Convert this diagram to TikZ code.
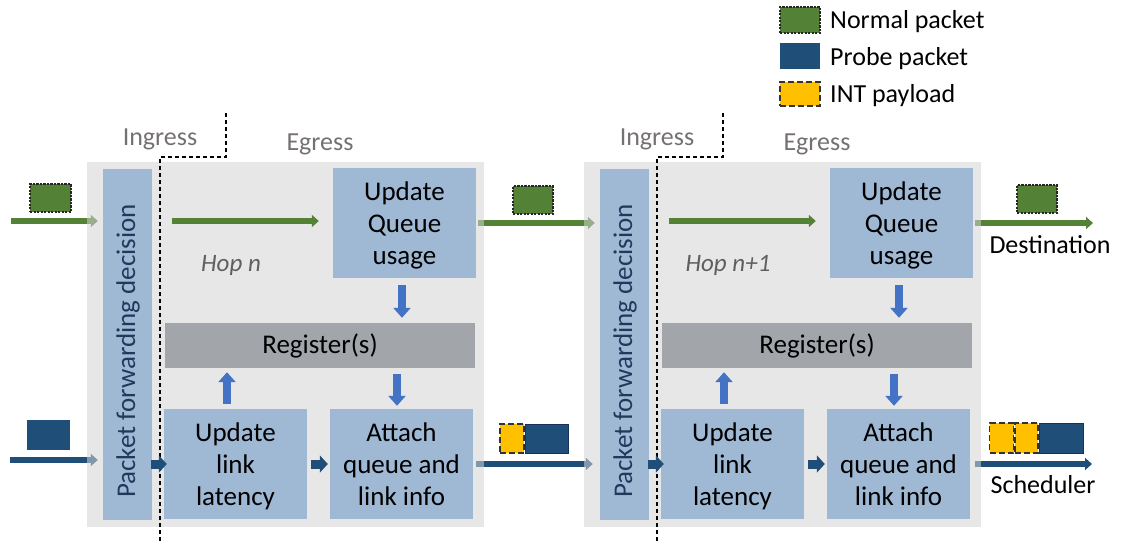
\documentclass[tikz,border=0pt]{standalone}
\usepackage{fontspec}
\setmainfont{Carlito}
\usetikzlibrary{arrows.meta,calc}

\definecolor{stagegrey}{HTML}{D3D3D3}
\definecolor{boxblue}{HTML}{9FB9D5}
\definecolor{reggrey}{HTML}{A2A5AA}
\definecolor{pktgreen}{HTML}{538135}
\definecolor{probeblue}{HTML}{1F4E79}
\definecolor{probeedge}{HTML}{1A2F5A}
\definecolor{intyellow}{HTML}{FFC000}
\definecolor{flowblue}{HTML}{4472C4}
\definecolor{labelgrey}{HTML}{767171}
\definecolor{hopgrey}{HTML}{5F5F5F}
\definecolor{decink}{HTML}{22395C}

\pgfdeclarelayer{back}
\pgfsetlayers{back,main}

\tikzset{
  stage/.style={fill=stagegrey, fill opacity=0.55, draw=none, inner sep=0pt,
    minimum width=397pt, minimum height=365pt},
  unit/.style={fill=boxblue, draw=none, inner sep=0pt, align=center, text depth=0pt,
    minimum width=143pt, minimum height=110pt, font=\fontsize{27}{32}\selectfont},
  decbox/.style={fill=boxblue, draw=none, inner sep=0pt,
    minimum width=49pt, minimum height=351pt},
  dectxt/.style={rotate=90, text=decink, inner sep=0pt, font=\fontsize{27}{32}\selectfont},
  regbox/.style={fill=reggrey, draw=none, inner sep=0pt,
    minimum width=310pt, minimum height=45pt, font=\fontsize{27}{32}\selectfont},
  sidetxt/.style={anchor=base, text=labelgrey, inner sep=0pt, font=\fontsize{26}{30}\selectfont},
  hoptxt/.style={anchor=base, text=hopgrey, inner sep=0pt, font=\fontsize{25}{30}\selectfont\itshape},
  divider/.style={draw=black, line width=1.3pt, dash pattern=on 4pt off 3pt},
  greenflow/.style={draw=pktgreen, line width=5.5pt, -{Triangle[width=12pt,length=7pt]}},
  probeflow/.style={draw=probeblue, line width=5.5pt, -{Triangle[width=12pt,length=7pt]}},
  stepflow/.style={draw=probeblue, line width=9pt, -{Triangle[width=17pt,length=8pt]}},
  regflow/.style={draw=flowblue, line width=8pt, -{Triangle[width=17pt,length=10pt]}},
  normalpkt/.style={fill=pktgreen, draw=black!85, line width=1.1pt,
    dash pattern=on 2.2pt off 1.3pt, inner sep=0pt},
  probepkt/.style={fill=probeblue, draw=none, inner sep=0pt},
  probepkto/.style={fill=probeblue, draw=probeedge, line width=1pt, inner sep=0pt},
  intpkt/.style={fill=intyellow, draw=black!80, line width=1.1pt,
    dash pattern=on 6pt off 3pt, inner sep=0pt},
  legendtxt/.style={anchor=base west, inner sep=0pt, font=\fontsize{26}{30}\selectfont},
  endtxt/.style={anchor=base, inner sep=0pt, font=\fontsize{26}{30}\selectfont},
}

\begin{document}
\begin{tikzpicture}[x=1pt,y=-1pt]
\useasboundingbox (0,0) rectangle (1121,542);

% legend
\node[normalpkt, minimum width=40pt, minimum height=26pt] (lgnormal) at (800,20) {};
\node[legendtxt] (lgnormaltxt) at (830,28) {Normal packet};
\node[probepkt, minimum width=40pt, minimum height=26pt] (lgprobe) at (800,56) {};
\node[legendtxt] (lgprobetxt) at (830,65) {Probe packet};
\node[intpkt, minimum width=40pt, minimum height=24pt] (lgint) at (800,94) {};
\node[legendtxt] (lginttxt) at (830,102) {INT payload};

% two switch stages
\foreach \i/\dx/\hop in {1/0/{Hop n},2/497/{Hop n+1}}{
  \begin{scope}[xshift=\dx pt]
    \node[stage] (grey\i) at (285.5,344.5) {};
    \node[decbox] (dec\i) at (127.5,344.5) {};
    \node[dectxt] (dectxt\i) at (128,351) {Packet forwarding decision};
    \node[unit] (uq\i) at (404.5,223) {Update\\Queue\\usage};
    \node[regbox] (reg\i) at (320,345.5) {Register(s)};
    \node[unit] (upd\i) at (235.5,464) {Update\\link\\latency};
    \node[unit] (att\i) at (401.5,464) {Attach\\queue and\\link info};
    \node[sidetxt] (ing\i) at (160,145) {Ingress};
    \node[sidetxt] (egr\i) at (320,150) {Egress};
    \node[hoptxt] (hop\i) at (231,271) {\hop};
    \coordinate (gs\i) at (172,221);
    % ingress / egress boundary
    \draw[divider] (226,113) -- (226,157) -- (160,157) -- (160,542);
    % normal packet path inside the switch
    \draw[greenflow, shorten >=14pt] (gs\i) -- (gs\i -| uq\i.west);
    % register accesses
    \draw[regflow, shorten <=7pt, shorten >=5pt]
      ([xshift=-2.5pt]uq\i.south) -- ([xshift=-2.5pt]uq\i.south |- reg\i.north);
    \draw[regflow, shorten <=5pt, shorten >=4pt]
      ([xshift=-8.5pt]upd\i.north) -- ([xshift=-8.5pt]upd\i.north |- reg\i.south);
    \draw[regflow, shorten <=6pt, shorten >=3pt]
      ([xshift=-4.5pt]att\i.north |- reg\i.south) -- ([xshift=-4.5pt]att\i.north);
    % probe packet path inside the switch
    \draw[stepflow, shorten <=-1pt, shorten >=-3pt] (dec\i.east |- upd\i.west) -- (upd\i.west);
    \draw[stepflow, shorten <=4pt, shorten >=2pt] (upd\i.east) -- (att\i.west);
  \end{scope}
}

% packet flows between hops (behind the switch panels)
\coordinate (gin) at (11,221);
\coordinate (pin) at (10,460);
\coordinate (dest) at (1093,223);
\coordinate (sched) at (1092,464);
\begin{pgfonlayer}{back}
  \draw[greenflow, shorten >=5pt] (gin) -- (gin -| dec1.west);
  \draw[probeflow, shorten >=5pt] (pin) -- (pin -| dec1.west);
  \draw[greenflow, shorten <=2pt, shorten >=5pt] (uq1.east) -- (uq1.east -| dec2.west);
  \draw[probeflow, shorten <=3pt, shorten >=7pt] (att1.east) -- (att1.east -| dec2.west);
  \draw[greenflow, shorten <=2pt] (uq2.east) -- (dest);
  \draw[probeflow, shorten <=5pt] (att2.east) -- (sched);
\end{pgfonlayer}

% packets on the wire
\node[normalpkt, minimum width=41pt, minimum height=28pt] (np0) at (50.5,198) {};
\node[normalpkt, minimum width=40pt, minimum height=28pt] (np1) at (533,200) {};
\node[normalpkt, minimum width=40pt, minimum height=28pt] (np2) at (1037,199) {};

\node[probepkt, minimum width=43pt, minimum height=30pt] (pp0) at (48.5,435) {};

\node[probepkto, minimum width=43pt, minimum height=29pt] (pp1) at (546.5,438.5) {};
\node[intpkt, minimum width=24pt, minimum height=29pt, anchor=east] (ip1) at (pp1.west) {};

\node[probepkto, minimum width=44pt, minimum height=30pt] (pp2) at (1061,438) {};
\node[intpkt, minimum width=23pt, minimum height=30pt, anchor=east] (ip2b) at (pp2.west) {};
\node[intpkt, minimum width=24pt, minimum height=30pt, anchor=east] (ip2a) at (ip2b.west) {};

% destinations
\node[endtxt] (destlabel) at (1050,253) {Destination};
\node[endtxt] (schedlabel) at (1043,493) {Scheduler};
\end{tikzpicture}
\end{document}
